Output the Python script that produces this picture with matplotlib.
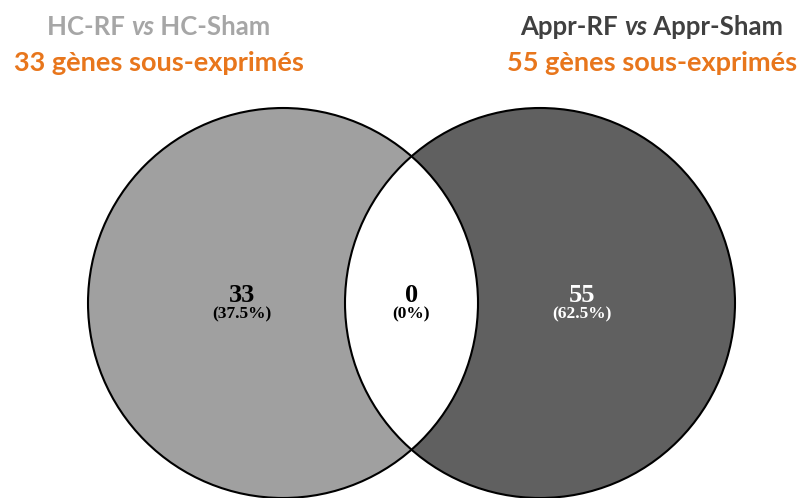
import numpy as np
import matplotlib
matplotlib.use("Agg")
import matplotlib.pyplot as plt
from matplotlib.patches import Circle, Polygon

# ---- data ----
set_names = ["HC-RF vs HC-Sham", "Appr-RF vs Appr-Sham"]
set_totals = [33, 55]
region_counts = [33, 0, 55]            # left only, both, right only
region_pcts = ["37.5%", "0%", "62.5%"]
subtitle_word = "gènes sous-exprimés"

W, H = 803, 498
fig = plt.figure(figsize=(W / 100, H / 100), dpi=100)
ax = fig.add_axes([0, 0, 1, 1])
ax.set_xlim(0, W)
ax.set_ylim(H, 0)
ax.set_aspect("equal")
ax.axis("off")

cy = 303
r = 195
cx = [283, 540]
fills = ["#a0a0a0", "#606060"]

for x, c in zip(cx, fills):
    ax.add_patch(Circle((x, cy), r, facecolor=c, edgecolor="none", zorder=1))

# intersection lens
d = cx[1] - cx[0]
h = np.sqrt(r**2 - (d / 2) ** 2)
a = np.arctan2(h, d / 2)
t1 = np.linspace(np.pi - a, np.pi + a, 100)   # arc of right circle (its left side)
t2 = np.linspace(-a, a, 100)                   # arc of left circle (its right side)
p1 = np.c_[cx[1] + r * np.cos(t1), cy + r * np.sin(t1)]
p2 = np.c_[cx[0] + r * np.cos(t2), cy + r * np.sin(t2)]
ax.add_patch(Polygon(np.vstack([p1, p2]), closed=True,
                     facecolor="white", edgecolor="none", zorder=2))

for x in cx:
    ax.add_patch(Circle((x, cy), r, facecolor="none", edgecolor="black", lw=1.5, zorder=3))

# region labels
lab_x = [242, (cx[0] + cx[1]) / 2, 582]
lab_col = ["black", "black", "white"]
serif = "Liberation Serif"
for x, n, p, c in zip(lab_x, region_counts, region_pcts, lab_col):
    ax.text(x, 295, str(n), ha="center", va="center", fontsize=19, fontweight="bold",
            family=serif, color=c, zorder=4)
    ax.text(x, 314, f"({p})", ha="center", va="center", fontsize=12.5, fontweight="bold",
            family=serif, color=c, zorder=4)

# titles
fig.canvas.draw()
renderer = fig.canvas.get_renderer()
title_font = "Lato"
title_cols = ["#a6a6a6", "#404040"]
title_cx = [159, 652]
orange = "#e8761c"


def draw_pieces(pieces, xc, y, color, size):
    texts = []
    for s, style in pieces:
        t = ax.text(0, y, s, ha="left", va="center", fontsize=size, fontweight="bold",
                    style=style, family=title_font, color=color)
        texts.append(t)
    widths = [t.get_window_extent(renderer).width for t in texts]
    total = sum(widths)
    x0 = xc - total / 2
    for t, w in zip(texts, widths):
        t.set_x(x0)
        x0 += w


for name, tot, xc, col in zip(set_names, set_totals, title_cx, title_cols):
    left, right = name.split(" vs ")
    draw_pieces([(left + " ", "normal"), ("vs", "italic"), (" " + right, "normal")],
                xc, 27, col, 18.5)
    draw_pieces([(f"{tot} {subtitle_word}", "normal")], xc, 63, orange, 19.5)

fig.savefig("out.png", dpi=100)
